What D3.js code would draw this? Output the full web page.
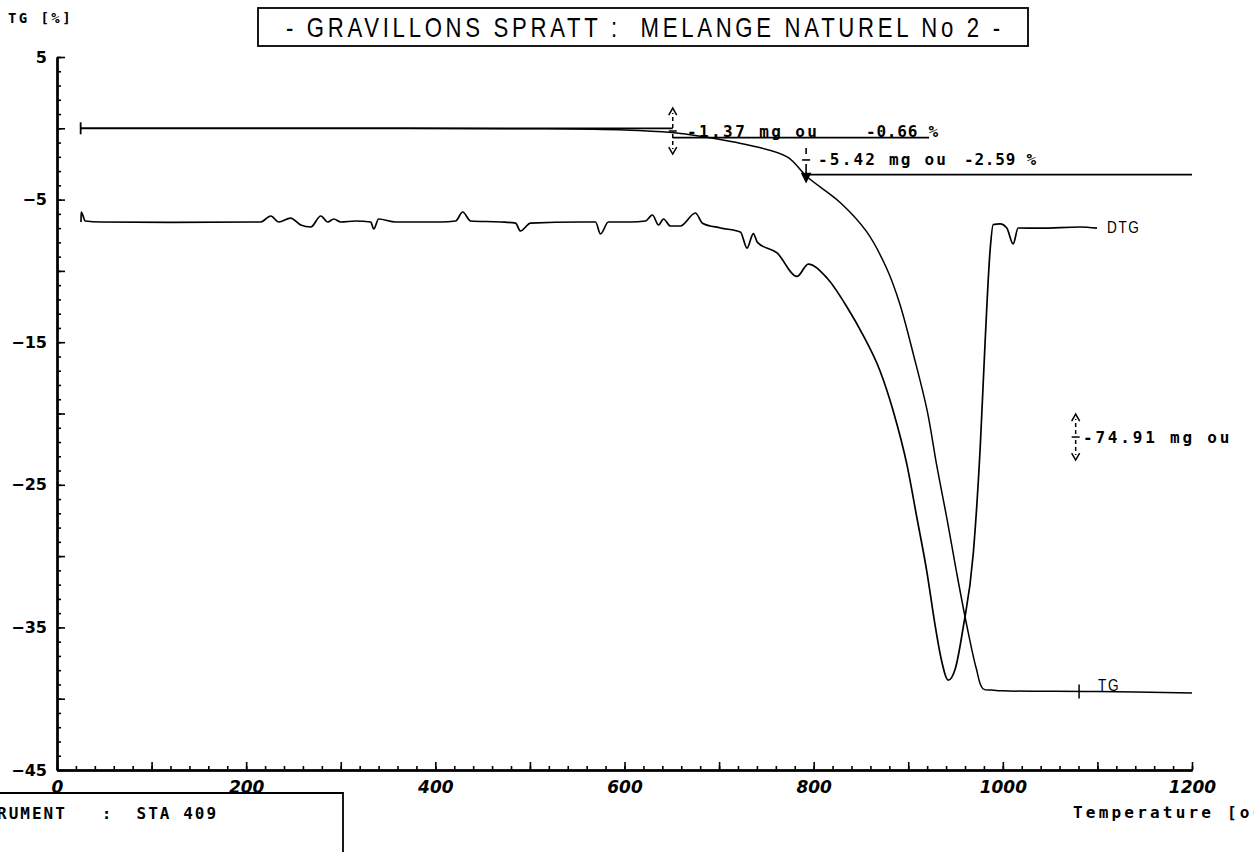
<!DOCTYPE html>
<html><head><meta charset="utf-8">
<script src="https://cdn.jsdelivr.net/npm/d3@7"></script>
<style>
html,body{margin:0;padding:0;background:#fff;}
svg{display:block;}
text{fill:#000;}
</style></head>
<body>
<svg id="c" width="1254" height="852"></svg>
<script>
// ---- data ----
const titleText = "- GRAVILLONS SPRATT :  MELANGE NATUREL No 2 -";
const xTickLabels = [0, 200, 400, 600, 800, 1000, 1200];
const yTickLabels = [5, -5, -15, -25, -35, -45];
const tgT = [25, 100, 300, 500, 600, 650, 680, 733, 772, 793, 828, 856, 877, 891, 906, 920, 930, 941, 951, 962, 972, 979, 990, 1000, 1100, 1200];
const tgV = [0, 0, 0, -0.03, -0.12, -0.3, -0.55, -1.2, -2.0, -3.4, -5.2, -7.25, -9.8, -12.3, -16.0, -19.8, -23.6, -27.4, -31.1, -34.9, -37.9, -39.3, -39.4, -39.45, -39.5, -39.6];
const dtgT = [25.4, 25.5, 30, 46.5, 120, 215.5, 226, 234.5, 247, 257.7, 268.3, 278.9, 286.3, 292.6, 300, 315.8, 331.7, 334.9, 340, 358, 405.6, 421.5, 428.9, 437.3, 469, 484.8, 490, 500.7, 553.5, 569.4, 574.6, 583, 606.3, 622.2, 629.5, 636, 641.2, 648.6, 659.1, 675, 682.4, 701.4, 722.5, 729.6, 736.2, 740.5, 761.3, 782.4, 794.3, 814.1, 835.2, 852.5, 870.4, 884.1, 898.6, 909.2, 919.7, 928.5, 934.8, 942.3, 949.7, 958.1, 968.7, 976.1, 981.4, 986.6, 989.8, 997.1, 1004.2, 1010.9, 1016.2, 1039.4, 1081.7, 1099.6];
const dtgV = [-6.57, -5.87, -6.5, -6.57, -6.6, -6.57, -6.15, -6.57, -6.3, -6.78, -6.92, -6.15, -6.57, -6.36, -6.57, -6.5, -6.57, -7.06, -6.36, -6.57, -6.57, -6.5, -5.87, -6.5, -6.57, -6.65, -7.2, -6.65, -6.57, -6.57, -7.41, -6.57, -6.57, -6.5, -6.08, -6.78, -6.36, -6.85, -6.85, -5.94, -6.65, -6.99, -7.27, -8.4, -7.38, -8.0, -8.74, -10.39, -9.52, -10.5, -12.53, -14.54, -17.05, -19.82, -23.59, -27.33, -31.1, -34.9, -37.2, -38.7, -37.9, -35.0, -29.85, -22.35, -14.78, -8.5, -6.75, -6.7, -6.99, -8.11, -6.99, -7.0, -6.92, -7.0];
const stepLevels = [0, -0.66, -3.25];
const stepFrom = [25, 651, 792];
const stepTo = [651, 922, 1200];
const stepMassLabels = ["-1.37 mg ou", "-5.42 mg ou", "-74.91 mg ou"];
const stepPctLabels = ["-0.66 %", "-2.59 %", ""];
const stepMarkT = [651, 792, 1077];
const stepMarkV = [-0.19, -2.22, -21.65];

// ---- scales ----
const svg = d3.select("#c");
const x = d3.scaleLinear().domain([0, 1200]).range([57, 1192]);
const y = d3.scaleLinear().domain([-45, 5]).range([770, 57]);
const ink = "#000";
const mono = "'DejaVu Sans Mono', 'Liberation Mono', monospace";

// ---- axes ----
function layer(g, axis) {
  const s = g.append("g").call(axis);
  s.selectAll("path.domain").attr("stroke", ink).attr("stroke-width", 2);
  s.selectAll(".tick line").attr("stroke", ink).attr("stroke-width", 1.6);
  return s;
}
const gy = svg.append("g").attr("transform", `translate(${x(0)},0)`);
layer(gy, d3.axisLeft(y).tickValues(d3.range(-45, 6, 1)).tickSize(-4).tickFormat("").tickSizeOuter(0));
layer(gy, d3.axisLeft(y).tickValues(d3.range(-45, 6, 5)).tickSize(-8).tickFormat("").tickSizeOuter(0));
layer(gy, d3.axisLeft(y).tickValues(yTickLabels).tickSize(0).tickPadding(10).tickFormat(d3.format("d")).tickSizeOuter(0))
  .selectAll(".tick text").attr("font-family", "'DejaVu Sans', sans-serif").attr("font-weight", "bold").attr("font-size", 16).attr("fill", ink);

const gx = svg.append("g").attr("transform", `translate(0,${y(-45)})`);
layer(gx, d3.axisBottom(x).tickValues(d3.range(0, 1201, 20)).tickSize(-4).tickFormat("").tickSizeOuter(0));
layer(gx, d3.axisBottom(x).tickValues(d3.range(0, 1201, 100)).tickSize(-8).tickFormat("").tickSizeOuter(0));
layer(gx, d3.axisBottom(x).tickValues(xTickLabels).tickSize(0).tickPadding(11).tickFormat(d3.format("d")).tickSizeOuter(0))
  .selectAll(".tick text").attr("font-family", "'DejaVu Sans', sans-serif").attr("font-weight", "bold").attr("font-style", "italic").attr("font-size", 17).attr("fill", ink);

// axis titles
svg.append("text").attr("x", 8).attr("y", 23).attr("font-family", mono).attr("font-weight", "bold").attr("font-size", 14).attr("letter-spacing", 2.4).attr("xml:space", "preserve").text("TG [%]");
svg.append("text").attr("x", 1073).attr("y", 818).attr("font-family", mono).attr("font-weight", "bold").attr("font-size", 16).attr("letter-spacing", 3.2).text("Temperature [oC]");

// title box
svg.append("rect").attr("x", 258).attr("y", 8).attr("width", 770).attr("height", 38).attr("fill", "none").attr("stroke", ink).attr("stroke-width", 1.8);
svg.append("text").attr("transform", "translate(643,37) scale(0.82,1)").attr("text-anchor", "middle")
  .attr("font-family", "'Liberation Sans', 'DejaVu Sans', sans-serif").attr("font-size", 27)
  .attr("textLength", 871).attr("lengthAdjust", "spacing").attr("xml:space", "preserve").text(titleText);

// instrument box
svg.append("path").attr("d", "M0,793 H343 V852").attr("fill", "none").attr("stroke", ink).attr("stroke-width", 1.8);
svg.append("text").attr("x", -3).attr("y", 819).attr("font-family", mono).attr("font-weight", "bold").attr("font-size", 16).attr("letter-spacing", 2).attr("xml:space", "preserve").text("RUMENT   :  STA 409");

// ---- curves ----
const line = d3.line().x(d => x(d[0])).y(d => y(d[1])).curve(d3.curveCatmullRom.alpha(0.5));
svg.append("path").datum(tgT.map((t, i) => [t, tgV[i]])).attr("d", line).attr("fill", "none").attr("stroke", ink).attr("stroke-width", 1.5);
const lineD = d3.line().x(d => x(d[0])).y(d => y(d[1])).curve(d3.curveMonotoneX);
svg.append("path").datum(dtgT.map((t, i) => [t, dtgV[i]])).attr("d", lineD).attr("fill", "none").attr("stroke", ink).attr("stroke-width", 1.7).attr("stroke-linejoin", "round");

// step reference lines
stepLevels.forEach((v, i) => {
  svg.append("line").attr("x1", x(stepFrom[i])).attr("x2", x(stepTo[i])).attr("y1", y(v)).attr("y2", y(v)).attr("stroke", ink).attr("stroke-width", 1.8);
});
// start/end markers on TG
svg.append("line").attr("x1", x(25)).attr("x2", x(25)).attr("y1", y(0) - 6).attr("y2", y(0) + 6).attr("stroke", ink).attr("stroke-width", 1.8);
svg.append("line").attr("x1", x(1080.6)).attr("x2", x(1080.6)).attr("y1", y(-39.5) - 7).attr("y2", y(-39.5) + 7).attr("stroke", ink).attr("stroke-width", 1.5);

// vertical step markers (dashed with arrowheads)
function marker(t, v) {
  const cx = x(t), cy = y(v);
  const g = svg.append("g").attr("stroke", ink).attr("fill", "none").attr("stroke-width", 1.5);
  g.append("line").attr("x1", cx - 4).attr("x2", cx + 4).attr("y1", cy).attr("y2", cy);
  g.append("line").attr("x1", cx).attr("x2", cx).attr("y1", cy - 3).attr("y2", cy - 18).attr("stroke-dasharray", "4,3");
  g.append("path").attr("d", `M${cx - 4},${cy - 16} L${cx},${cy - 23} L${cx + 4},${cy - 16}`);
  g.append("line").attr("x1", cx).attr("x2", cx).attr("y1", cy + 3).attr("y2", cy + 18).attr("stroke-dasharray", "4,3");
  g.append("path").attr("d", `M${cx - 4},${cy + 16} L${cx},${cy + 23} L${cx + 4},${cy + 16}`);
}
marker(stepMarkT[0], stepMarkV[0]);
marker(stepMarkT[2], stepMarkV[2]);
// second marker: + with solid arrow down to TG level
{
  const cx = x(stepMarkT[1]), cy = y(stepMarkV[1]);
  const g = svg.append("g").attr("stroke", ink).attr("stroke-width", 1.6);
  g.append("line").attr("x1", cx - 4).attr("x2", cx + 4).attr("y1", cy).attr("y2", cy);
  g.append("line").attr("x1", cx).attr("x2", cx).attr("y1", cy - 12).attr("y2", cy - 6);
  g.append("line").attr("x1", cx).attr("x2", cx).attr("y1", cy + 4).attr("y2", y(stepLevels[2]) + 6);
  g.append("path").attr("d", `M${cx - 4},${y(stepLevels[2]) - 1} L${cx},${y(stepLevels[2]) + 7} L${cx + 4},${y(stepLevels[2]) - 1} Z`).attr("fill", ink);
}

// step labels
const massX = [687, 818, 1083], pctX = [866, 964, 0], labY = [137, 165, 443], massLS = [2.4, 2.2, 2.8];
stepMassLabels.forEach((s, i) => {
  svg.append("text").attr("x", massX[i]).attr("y", labY[i]).attr("font-family", mono).attr("font-size", 16).attr("font-weight", "bold").attr("letter-spacing", massLS[i]).text(s);
  if (stepPctLabels[i]) svg.append("text").attr("x", pctX[i]).attr("y", labY[i]).attr("font-family", mono).attr("font-size", 16).attr("font-weight", "bold").attr("letter-spacing", 0.8).attr("xml:space", "preserve").text(stepPctLabels[i]);
});

// curve labels
svg.append("text").attr("transform", "translate(1107,233) scale(0.8,1)").attr("font-family", "'Liberation Sans', sans-serif").attr("font-size", 17).attr("letter-spacing", 2).text("DTG");
svg.append("text").attr("transform", `translate(1098,${y(-39.5) - 1}) scale(0.8,1)`).attr("font-family", "'Liberation Sans', sans-serif").attr("font-size", 17).attr("letter-spacing", 2).text("TG");
</script>
</body></html>
